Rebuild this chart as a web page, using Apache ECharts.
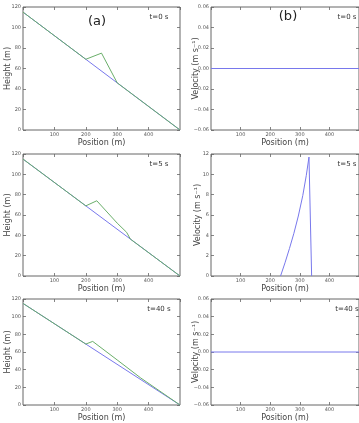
<!DOCTYPE html>
<html>
<head>
<meta charset="utf-8">
<script src="https://cdn.jsdelivr.net/npm/echarts@6/dist/echarts.min.js"></script>
<style>
  html, body { margin: 0; padding: 0; background: #fff; }
  #chart { width: 359px; height: 423px; }
</style>
</head>
<body>
<div id="chart"></div>
<script>
// bed profile (blue)
const groundX = [0, 500];
const groundH = [115, 0];
// flow surface (green) at t=0, 5, 40 s
const surfX0 = [0, 200, 250, 300, 500];
const surfH0 = [115, 69, 75, 46, 0];
const surfX5 = [0, 200, 235, 300, 330, 342, 500];
const surfH5 = [115, 69, 74, 52, 43, 36.3, 0];
const surfX40 = [0, 200, 222, 300, 375, 500];
const surfH40 = [115, 69, 72, 51, 30.6, 0];
// velocity (blue)
const velX0 = [0, 500];
const vel0 = [0, 0];
const velX5 = [235, 250, 265, 280, 295, 310, 322, 331, 340];
const vel5 = [0, 1.3, 2.7, 4.2, 5.9, 7.9, 9.9, 11.7, 0];
const velX40 = [0, 500];
const vel40 = [0, 0];
const timeLabels = ['t=0 s', 't=5 s', 't=40 s'];

const zip = (xs, ys) => xs.map((x, i) => [x, ys[i]]);
const surfaces = [zip(surfX0, surfH0), zip(surfX5, surfH5), zip(surfX40, surfH40)];
const velocities = [zip(velX0, vel0), zip(velX5, vel5), zip(velX40, vel40)];

const FONT = 'DejaVu Sans';
const frame = '#666';
const green = '#6aae6a';
const blue = '#7878ec';
const rowTop = [7, 154, 299];
const rowH = [123, 122, 122];

const grids = [], xAxes = [], yAxes = [], series = [], texts = [];

function addPanel(g, rect, xName, yCfg) {
  grids.push(Object.assign({ show: true, borderColor: frame, borderWidth: 1, containLabel: false }, rect));
  const tick = { show: true, inside: true, length: 3, lineStyle: { color: frame, width: 0.8 } };
  const xBase = { type: 'value', gridIndex: g, min: 0, max: 500, interval: 100,
    axisLine: { show: false, onZero: false }, axisTick: tick, splitLine: { show: false } };
  xAxes.push(Object.assign({}, xBase, { position: 'bottom',
    name: xName, nameLocation: 'middle', nameGap: 9, nameMoveOverlap: false,
    nameTextStyle: { fontFamily: FONT, fontSize: 8, color: '#444' },
    axisLabel: { fontFamily: FONT, fontSize: 5, color: '#555', margin: 2,
      showMinLabel: false, showMaxLabel: false } }));
  xAxes.push(Object.assign({}, xBase, { position: 'top', axisLabel: { show: false } }));
  const yBase = { type: 'value', gridIndex: g, min: yCfg.min, max: yCfg.max, interval: yCfg.interval,
    axisLine: { show: false, onZero: false }, axisTick: tick, splitLine: { show: false } };
  yAxes.push(Object.assign({}, yBase, { position: 'left',
    name: yCfg.name, nameLocation: 'middle', nameGap: yCfg.gap, nameRotate: 90, nameMoveOverlap: false,
    nameTextStyle: { fontFamily: FONT, fontSize: 8, color: '#444' },
    axisLabel: { fontFamily: FONT, fontSize: 5, color: '#555', margin: 2, formatter: yCfg.fmt } }));
  yAxes.push(Object.assign({}, yBase, { position: 'right', axisLabel: { show: false } }));
}

const smallFmt = v => {
  const s = Math.abs(v).toFixed(2);
  return (v < -1e-9 ? '\u2212' : '') + s;
};

for (let r = 0; r < 3; r++) {
  const gl = r * 2, gr = r * 2 + 1;
  addPanel(gl, { left: 23, top: rowTop[r], width: 157, height: rowH[r] }, 'Position (m)',
    { min: 0, max: 120, interval: 20, name: 'Height (m)', gap: 11, fmt: v => String(v) });
  const velCfg = r === 1
    ? { min: 0, max: 12, interval: 2, name: 'Velocity (m s\u207B\u00B9)', gap: 9, fmt: v => String(v) }
    : { min: -0.06, max: 0.06, interval: 0.02, name: 'Velocity (m s\u207B\u00B9)', gap: 11, fmt: smallFmt };
  addPanel(gr, { left: 211, top: rowTop[r], width: 156, height: rowH[r] }, 'Position (m)', velCfg);

  series.push({ type: 'line', xAxisIndex: gl * 2, yAxisIndex: gl * 2, data: zip(groundX, groundH),
    showSymbol: false, silent: true, lineStyle: { color: blue, width: 1 } });
  series.push({ type: 'line', xAxisIndex: gl * 2, yAxisIndex: gl * 2, data: surfaces[r],
    showSymbol: false, silent: true, lineStyle: { color: green, width: 1 } });
  series.push({ type: 'line', xAxisIndex: gr * 2, yAxisIndex: gr * 2, data: velocities[r],
    showSymbol: false, silent: true, lineStyle: { color: blue, width: 1 } });

  const ty = [17, 164, 309][r];
  texts.push({ type: 'text', x: 159, y: ty, style: { text: timeLabels[r], font: '7px "DejaVu Sans"', fill: '#333', textAlign: 'center', textVerticalAlign: 'middle' } });
  texts.push({ type: 'text', x: 347, y: ty, style: { text: timeLabels[r], font: '7px "DejaVu Sans"', fill: '#333', textAlign: 'center', textVerticalAlign: 'middle' } });
}

texts.push({ type: 'text', x: 97, y: 22, style: { text: '(a)', font: '13px "DejaVu Sans"', fill: '#222', textAlign: 'center', textVerticalAlign: 'middle' } });
texts.push({ type: 'text', x: 288, y: 17, style: { text: '(b)', font: '13px "DejaVu Sans"', fill: '#222', textAlign: 'center', textVerticalAlign: 'middle' } });

const chart = echarts.init(document.getElementById('chart'), null, { renderer: 'canvas' });
chart.setOption({
  animation: false,
  backgroundColor: '#fff',
  grid: grids,
  xAxis: xAxes,
  yAxis: yAxes,
  series: series,
  graphic: texts
});
</script>
</body>
</html>
